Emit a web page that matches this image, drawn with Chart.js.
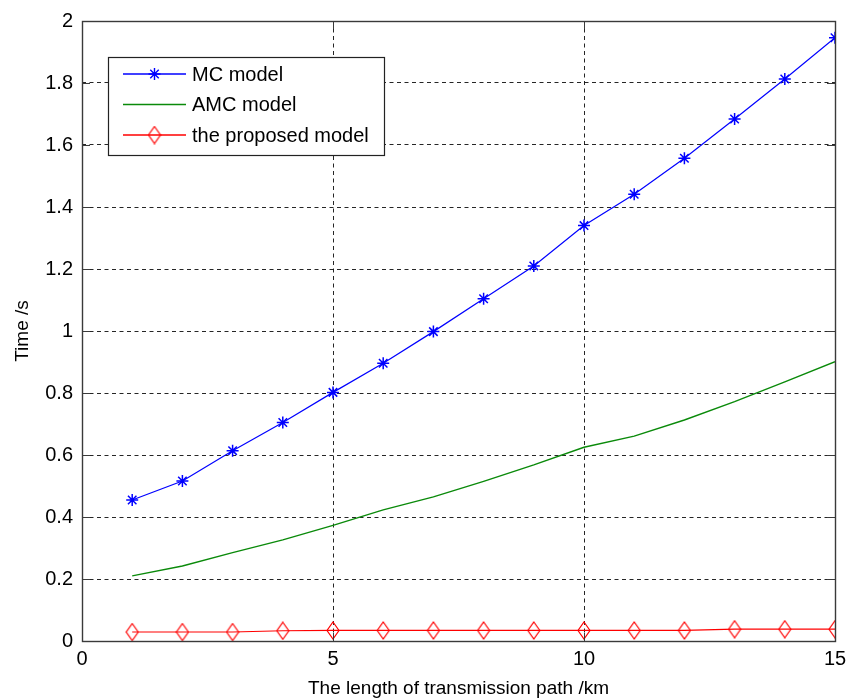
<!DOCTYPE html>
<html>
<head>
<meta charset="utf-8">
<script src="https://cdn.jsdelivr.net/npm/chart.js@4.4.0/dist/chart.umd.min.js"></script>
<style>
  html, body { margin: 0; padding: 0; background: #fff; }
  #wrap { width: 846px; height: 698px; }
</style>
</head>
<body>
<div id="wrap"><canvas id="c" width="846" height="698"></canvas></div>
<script>
// Path lengths (km) and computation times (s) for the three models
const pathLength = [1, 2, 3, 4, 5, 6, 7, 8, 9, 10, 11, 12, 13, 14, 15];
const mcTime = [0.455, 0.516, 0.614, 0.705, 0.802, 0.896, 0.998, 1.104, 1.21, 1.34, 1.441, 1.557, 1.684, 1.813, 1.946];
const amcTime = [0.21, 0.242, 0.285, 0.326, 0.373, 0.423, 0.465, 0.515, 0.568, 0.625, 0.661, 0.713, 0.772, 0.836, 0.901];
const proposedTime = [0.029, 0.029, 0.029, 0.033, 0.034, 0.034, 0.034, 0.034, 0.034, 0.034, 0.034, 0.034, 0.038, 0.038, 0.038];
const seriesNames = ['MC model', 'AMC model', 'the proposed model'];
const xTickLabels = ['0', '5', '10', '15'];
const yTickLabels = ['0', '0.2', '0.4', '0.6', '0.8', '1', '1.2', '1.4', '1.6', '1.8', '2'];

const FONT = 'Arial, "Liberation Sans", sans-serif';
const BLUE = '#0000ff', GREEN = '#0a8a0a', RED = '#ff0000';

// Hollow, vertically stretched diamond marker
function makeDiamond(color) {
  const cv = document.createElement('canvas');
  cv.width = 14; cv.height = 19;
  const g = cv.getContext('2d');
  g.strokeStyle = color; g.lineWidth = 1.2;
  g.beginPath();
  g.moveTo(7, 1); g.lineTo(13, 9.5); g.lineTo(7, 18); g.lineTo(1, 9.5); g.closePath();
  g.stroke();
  return cv;
}
const diamond = makeDiamond(RED);

const toXY = arr => arr.map((v, i) => ({ x: pathLength[i], y: v }));

// Axes frame with inward ticks, drawn over the dashed grid
const framePlugin = {
  id: 'frame',
  afterDatasetsDraw(chart) {
    const { ctx, chartArea: a, scales } = chart;
    ctx.save();
    ctx.strokeStyle = '#3a3a3a';
    ctx.lineWidth = 1;
    const tl = 8;
    ctx.beginPath();
    scales.y.ticks.forEach(t => {
      const py = Math.round(scales.y.getPixelForValue(t.value)) + 0.5;
      ctx.moveTo(a.left, py); ctx.lineTo(a.left + tl, py);
      ctx.moveTo(a.right, py); ctx.lineTo(a.right - tl, py);
    });
    scales.x.ticks.forEach(t => {
      const px = Math.round(scales.x.getPixelForValue(t.value)) + 0.5;
      ctx.moveTo(px, a.bottom); ctx.lineTo(px, a.bottom - tl);
      ctx.moveTo(px, a.top); ctx.lineTo(px, a.top + tl);
    });
    ctx.stroke();
    ctx.lineWidth = 1.4;
    ctx.strokeRect(Math.round(a.left) + 0.5, Math.round(a.top) + 0.5,
      Math.round(a.right - a.left), Math.round(a.bottom - a.top));
    ctx.restore();
  }
};

// Legend box with line + marker samples
const legendPlugin = {
  id: 'boxLegend',
  afterDraw(chart) {
    const { ctx } = chart;
    const bx = 108, by = 57, bw = 276, bh = 98;
    ctx.save();
    ctx.fillStyle = '#fff';
    ctx.fillRect(bx, by, bw, bh);
    ctx.strokeStyle = '#222';
    ctx.lineWidth = 1.2;
    ctx.strokeRect(bx + 0.5, by + 0.5, bw, bh);
    const rows = [74, 104.5, 135];
    chart.data.datasets.forEach((ds, i) => {
      const y = rows[i];
      ctx.strokeStyle = ds.borderColor;
      ctx.lineWidth = 1.3;
      ctx.beginPath();
      ctx.moveTo(123, y); ctx.lineTo(186, y);
      ctx.stroke();
      if (ds.pointStyle === 'star') {
        ctx.lineWidth = 1.4;
        ctx.beginPath();
        const r = 6;
        for (let k = 0; k < 4; k++) {
          const ang = k * Math.PI / 4;
          ctx.moveTo(154.5 - r * Math.cos(ang), y - r * Math.sin(ang));
          ctx.lineTo(154.5 + r * Math.cos(ang), y + r * Math.sin(ang));
        }
        ctx.stroke();
      } else if (ds.pointStyle instanceof HTMLCanvasElement) {
        ctx.drawImage(ds.pointStyle, 154.5 - 7, y - 9.5);
      }
      ctx.fillStyle = '#000';
      ctx.font = '20px ' + FONT;
      ctx.textBaseline = 'middle';
      ctx.textAlign = 'left';
      ctx.fillText(ds.label, 192, y + 1);
    });
    ctx.restore();
  }
};

new Chart(document.getElementById('c'), {
  type: 'line',
  data: {
    datasets: [
      {
        label: seriesNames[0], data: toXY(mcTime),
        borderColor: BLUE, backgroundColor: BLUE, borderWidth: 1.2,
        pointStyle: 'star', pointRadius: 6, pointBorderWidth: 1.5,
        pointBorderColor: BLUE, tension: 0
      },
      {
        label: seriesNames[1], data: toXY(amcTime),
        borderColor: GREEN, backgroundColor: GREEN, borderWidth: 1.4,
        pointRadius: 0, tension: 0
      },
      {
        label: seriesNames[2], data: toXY(proposedTime),
        borderColor: RED, backgroundColor: RED, borderWidth: 1.2,
        pointStyle: diamond, pointRadius: 7, tension: 0
      }
    ]
  },
  options: {
    responsive: false,
    animation: false,
    devicePixelRatio: 1,
    layout: { padding: { top: 21, right: 11, left: 0, bottom: 0 } },
    plugins: { legend: { display: false }, tooltip: { enabled: false } },
    scales: {
      x: {
        type: 'linear', min: 0, max: 15,
        afterFit: s => { s.height = 57; s.paddingLeft = 0; s.paddingRight = 0; },
        afterBuildTicks: s => { s.ticks = xTickLabels.map(v => ({ value: Number(v) })); },
        ticks: {
          callback: (v, i) => xTickLabels[i],
          color: '#000', font: { family: FONT, size: 20 }, padding: 6, maxRotation: 0
        },
        grid: { color: 'rgba(0,0,0,0.85)', lineWidth: 1, drawTicks: false },
        border: { display: false, dash: [4, 3.5] },
        title: {
          display: true, text: 'The length of transmission path /km',
          color: '#000', font: { family: FONT, size: 19, lineHeight: 1.0 },
          padding: { top: 0, bottom: 0 }
        }
      },
      y: {
        type: 'linear', min: 0, max: 2,
        afterFit: s => { s.width = 82; s.paddingTop = 0; s.paddingBottom = 0; },
        afterBuildTicks: s => { s.ticks = yTickLabels.map(v => ({ value: Number(v) })); },
        ticks: {
          callback: (v, i) => yTickLabels[i],
          color: '#000', font: { family: FONT, size: 20 }, padding: 9
        },
        grid: { color: 'rgba(0,0,0,0.85)', lineWidth: 1, drawTicks: false },
        border: { display: false, dash: [4, 3.5] },
        title: {
          display: true, text: 'Time /s',
          color: '#000', font: { family: FONT, size: 19, lineHeight: 1.0 },
          padding: { top: 13, bottom: 0 }
        }
      }
    }
  },
  plugins: [framePlugin, legendPlugin]
});
</script>
</body>
</html>
